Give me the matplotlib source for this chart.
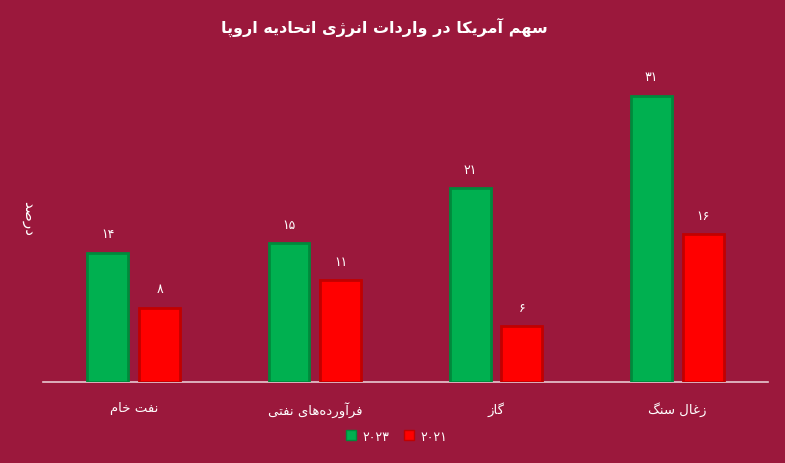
import matplotlib
matplotlib.use('Agg')
import matplotlib.pyplot as plt
from matplotlib.patches import Patch
import numpy as np

title = 'سهم آمریکا در واردات انرژی اتحادیه اروپا'
ylabel = 'درصد'
categories = ['نفت خام', 'فرآورده\u200cهای نفتی', 'گاز', 'زغال سنگ']
values_2023 = [14, 15, 21, 31]
values_2021 = [8, 11, 6, 16]
years = ['2023', '2021']

# Arabic presentation forms: isolated, final, initial, medial
FORMS = {
    'ا': ('\uFE8D', '\uFE8E'), 'آ': ('\uFE81', '\uFE82'),
    'د': ('\uFEA9', '\uFEAA'), 'ر': ('\uFEAD', '\uFEAE'),
    'ز': ('\uFEAF', '\uFEB0'), 'ژ': ('\uFB8A', '\uFB8B'),
    'و': ('\uFEED', '\uFEEE'),
    'پ': ('\uFB56', '\uFB57', '\uFB58', '\uFB59'),
    'ت': ('\uFE95', '\uFE96', '\uFE97', '\uFE98'),
    'ح': ('\uFEA1', '\uFEA2', '\uFEA3', '\uFEA4'),
    'خ': ('\uFEA5', '\uFEA6', '\uFEA7', '\uFEA8'),
    'س': ('\uFEB1', '\uFEB2', '\uFEB3', '\uFEB4'),
    'ص': ('\uFEB9', '\uFEBA', '\uFEBB', '\uFEBC'),
    'غ': ('\uFECD', '\uFECE', '\uFECF', '\uFED0'),
    'ف': ('\uFED1', '\uFED2', '\uFED3', '\uFED4'),
    'ک': ('\uFB8E', '\uFB8F', '\uFB90', '\uFB91'),
    'گ': ('\uFB92', '\uFB93', '\uFB94', '\uFB95'),
    'ل': ('\uFEDD', '\uFEDE', '\uFEDF', '\uFEE0'),
    'م': ('\uFEE1', '\uFEE2', '\uFEE3', '\uFEE4'),
    'ن': ('\uFEE5', '\uFEE6', '\uFEE7', '\uFEE8'),
    'ه': ('\uFEE9', '\uFEEA', '\uFEEB', '\uFEEC'),
    'ی': ('\uFBFC', '\uFBFD', '\uFBFE', '\uFBFF'),
}
LAMALEF = {'ا': ('\uFEFB', '\uFEFC'), 'آ': ('\uFEF5', '\uFEF6')}


def shape(text):
    dual = {k for k, v in FORMS.items() if len(v) == 4}
    out = []
    i = 0
    n = len(text)
    while i < n:
        c = text[i]
        if c not in FORMS:
            if c != '\u200c':
                out.append(c)
            i += 1
            continue
        prev = i > 0 and text[i - 1] in dual
        if c == 'ل' and i + 1 < n and text[i + 1] in LAMALEF:
            out.append(LAMALEF[text[i + 1]][1 if prev else 0])
            i += 2
            continue
        nxt = c in dual and i + 1 < n and text[i + 1] in FORMS
        f = FORMS[c]
        if prev and nxt:
            g = f[3]
        elif prev:
            g = f[1]
        elif nxt:
            g = f[2]
        else:
            g = f[0]
        out.append(g)
        i += 1
    return ''.join(reversed(out))


def fa_digits(s):
    return str(s).translate(str.maketrans('0123456789', '۰۱۲۳۴۵۶۷۸۹'))


plt.rcParams['font.family'] = ['DejaVu Sans']
bg = '#9B183C'
green, green_dark = '#00B050', '#008A3C'
red, red_dark = '#FF0000', '#C20000'

fig = plt.figure(figsize=(7.85, 4.64), dpi=100, facecolor=bg)
ax = fig.add_axes([0.055, 0.175, 0.923, 0.696])
ax.set_facecolor(bg)

x = np.arange(len(categories))
w = 0.226
off = 0.143
b1 = ax.bar(x - off, values_2023, w, color=green, edgecolor=green_dark, linewidth=2, zorder=3)
b2 = ax.bar(x + off, values_2021, w, color=red, edgecolor=red_dark, linewidth=2, zorder=3)

for bars, vals in ((b1, values_2023), (b2, values_2021)):
    for b, v in zip(bars, vals):
        ax.annotate(fa_digits(v), (b.get_x() + b.get_width() / 2, v), xytext=(0, 9),
                    textcoords='offset points', ha='center', va='bottom',
                    color='white', fontsize=9)

ax.set_xlim(-0.5, len(categories) - 0.5)
ax.set_ylim(0, 35)
ax.set_xticks(x)
ax.set_xticklabels([shape(c) for c in categories], color='white', fontsize=9.5)
ax.tick_params(axis='x', length=0, pad=14)
ax.set_yticks([])
for s in ('top', 'right', 'left'):
    ax.spines[s].set_visible(False)
ax.spines['bottom'].set_color('#E8C9D2')
ax.spines['bottom'].set_linewidth(1.2)

fig.text(0.036, 0.53, shape(ylabel), rotation=-90, ha='center', va='center',
         color='white', fontsize=11)
fig.text(0.49, 0.94, shape(title), ha='center', va='center', color='white',
         fontsize=11.5, fontweight='bold')

handles = [Patch(facecolor=green, edgecolor=green_dark), Patch(facecolor=red, edgecolor=red_dark)]
fig.legend(handles, [fa_digits(y) for y in years], loc='center', bbox_to_anchor=(0.505, 0.058),
           ncol=2, frameon=False, labelcolor='white', handlelength=0.8,
           handleheight=0.9, handletextpad=0.5, columnspacing=1.2, prop={'size': 9})

fig.savefig('out.png', dpi=100, facecolor=bg)
